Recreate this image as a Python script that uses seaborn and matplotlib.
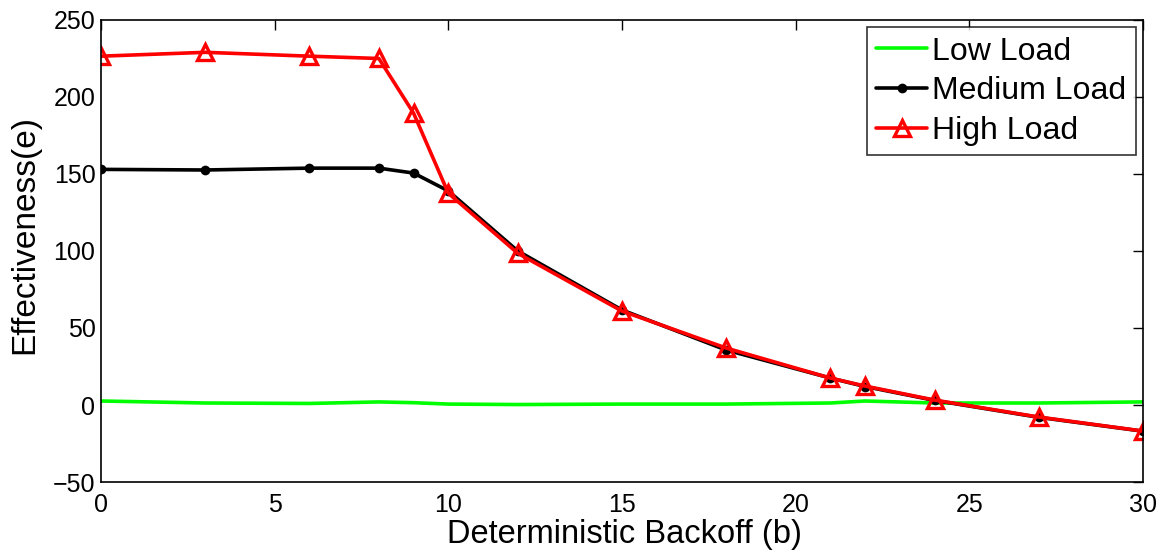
import matplotlib
matplotlib.use("Agg")
import matplotlib.pyplot as plt
import seaborn as sns

backoff = [0, 3, 6, 8, 9, 10, 12, 15, 18, 21, 22, 24, 27, 30]
low_load = [2.6, 1.3, 1.0, 2.0, 1.5, 0.6, 0.3, 0.6, 0.6, 1.3, 2.6, 1.3, 1.3, 2.0]
medium_load = [153, 152.6, 153.8, 153.8, 150.6, 139, 100, 61.7, 35.7, 17.5, 12, 3, -8, -17]
high_load = [226.5, 229, 226.5, 225, 189.5, 137.5, 98.5, 61, 37, 17.5, 12.3, 3.2, -7.8, -16.9]

sns.set_theme(style="white")
plt.rcParams['font.family'] = ['Liberation Sans', 'DejaVu Sans']
plt.rcParams['text.color'] = 'black'
plt.rcParams['axes.labelcolor'] = 'black'

fig = plt.figure(figsize=(11.68, 5.52), dpi=100)
ax = fig.add_axes([0.0865, 0.1268, 0.892, 0.837])

sns.lineplot(x=backoff, y=low_load, ax=ax, color='#00ff00', lw=2.6,
             label='Low Load')
sns.lineplot(x=backoff, y=medium_load, ax=ax, color='black', lw=2.6,
             marker='o', markersize=7, markeredgewidth=0, label='Medium Load')
sns.lineplot(x=backoff, y=high_load, ax=ax, color='red', lw=2.6,
             marker='^', markersize=11, markerfacecolor='none',
             markeredgecolor='red', markeredgewidth=2.4, label='High Load')

ax.set_xlim(0, 30)
ax.set_ylim(-50, 250)
ax.set_xticks(range(0, 31, 5))
ax.set_yticks(range(-50, 251, 50))
ax.set_yticklabels(['\u221250' if v < 0 else str(v) for v in range(-50, 251, 50)])
ax.tick_params(direction='in', length=7, width=1, labelsize=18,
               top=True, right=True, colors='black')
ax.tick_params(axis='y', pad=4)
ax.tick_params(axis='x', pad=8)
for s in ax.spines.values():
    s.set_color('black')
    s.set_linewidth(1.2)

ax.set_xlabel('Deterministic Backoff (b)', fontsize=23.5, color='black')
ax.set_ylabel('Effectiveness(e)', fontsize=24, color='black')
ax.xaxis.set_label_coords(0.502, -0.08)
ax.yaxis.set_label_coords(-0.058, 0.535)

leg = ax.legend(loc='upper right', fontsize=23, frameon=True, fancybox=False,
                handlelength=1.6, handletextpad=0.15, borderpad=0.3,
                labelspacing=0.3, borderaxespad=0.22)
leg.get_frame().set_edgecolor('black')
leg.get_frame().set_linewidth(1.2)
for t in leg.get_texts():
    t.set_color('black')

fig.savefig('out.png', dpi=100)
